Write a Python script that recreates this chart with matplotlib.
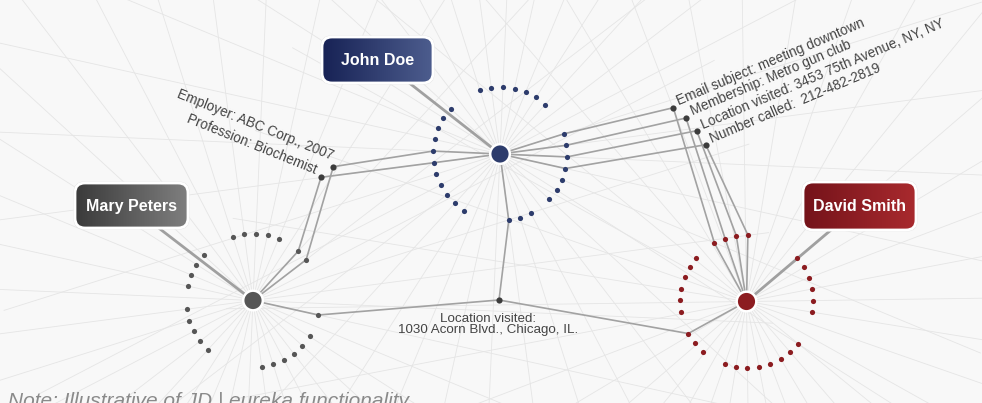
# Link-analysis style network diagram (illustrative)
import matplotlib.pyplot as plt
import numpy as np
from matplotlib.patches import FancyBboxPatch
from matplotlib.colors import LinearSegmentedColormap

# People (hub nodes), pixel coordinates
hub_names = ["John Doe", "Mary Peters", "David Smith"]
hub_x = [500, 253, 746.5]
hub_y = [154, 300.5, 301.5]
hub_colors = ["#2d3c6c", "#565656", "#8c1c20"]
ring_radius = [67, 67, 66.5]
spoke_offset = [2.5, 2.5, -0.8]

# Angles (deg, clockwise from east) of the small dots round each person
john_ring = [-107.5, -97.5, -87.5, -77.5, -67.5, -57.5, -47.5,
             -17.5, -7.5, 2.5, 12.5, 22.5, 32.5, 42.5,
             62.5, 72.5, 82.5,
             122.5, 132.5, 142.5, 152.5, 162.5, 172.5,
             -177.5, -167.5, -157.5, -147.5, -137.5]
mary_ring = [-107.5, -97.5, -87.5, -77.5, -67.5, -47.5, -37.5,
             12.5, 32.5, 42.5, 52.5, 62.5, 72.5, 82.5,
             132.5, 142.5, 152.5, 162.5, 172.5,
             -167.5, -157.5, -147.5, -137.5]
david_ring = [-118.8, -108.8, -98.8, -88.8,
              -138.8, -148.8, -158.8, -168.8, -178.8, 171.2,
              151.2, 141.2, 131.2,
              109.2, 99.2, 89.2, 79.2, 69.2, 59.2, 49.2, 39.2,
              -40.8, -30.8, -20.8, -10.8, -0.8, 9.2]
rings = [john_ring, mary_ring, david_ring]

# Name boxes
box_left = [322, 75, 803]
box_top = [37, 183, 182]
box_right = [433, 188, 916]
box_bottom = [83, 228, 230]
box_grad = [("#172255", "#4d5d8e"), ("#3a3a3a", "#7f7f7f"), ("#74131a", "#a92a2e")]
box_anchor_x = [408, 160, 831]
box_anchor_y = [82, 229, 230]

# Attribute nodes and which ring dot (hub, angle) they link to
attr_x = [333.3, 321, 499, 673.3, 686, 696.7, 705.7]
attr_y = [166.7, 177.3, 300, 107.7, 118, 130.7, 144.7]
attr_links = [[(0, -177.5), (1, -37.5)],
              [(0, 172.5), (1, -47.5)],
              [(0, 82.5), (1, 12.5), (2, 151.2)],
              [(0, -17.5), (2, -118.8)],
              [(0, -7.5), (2, -108.8)],
              [(0, 2.5), (2, -98.8)],
              [(0, 12.5), (2, -88.8)]]

left_labels = ["Employer: ABC Corp., 2007", "Profession: Biochemist"]
left_lx = [331, 315]
left_ly = [160, 174]
right_labels = ["Email subject: meeting downtown", "Membership: Metro gun club",
                "Location visited: 3453 75th Avenue, NY, NY", "Number called:  212-482-2819"]
right_lx = [678.5, 693, 703.5, 712]
right_ly = [105, 115.5, 129.5, 143]


def ring_point(h, ang):
    a = np.radians(ang)
    return hub_x[h] + ring_radius[h] * np.cos(a), hub_y[h] + ring_radius[h] * np.sin(a)


plt.rcParams['font.family'] = ['Liberation Sans', 'DejaVu Sans']
fig = plt.figure(figsize=(9.82, 4.03), dpi=100)
fig.patch.set_facecolor("#f8f8f8")
ax = fig.add_axes([0, 0, 1, 1])
ax.set_facecolor("#f8f8f8")

# faint spokes from every hub
for h in range(3):
    for k in range(36):
        a = np.radians(spoke_offset[h] + 10 * k)
        ax.plot([hub_x[h], hub_x[h] + 520 * np.cos(a)],
                [hub_y[h], hub_y[h] + 520 * np.sin(a)],
                color="#e5e5e5", lw=0.6, zorder=1)

# links attribute -> ring dot -> hub
for i in range(len(attr_x)):
    for h, ang in attr_links[i]:
        px, py = ring_point(h, ang)
        ax.plot([attr_x[i], px, hub_x[h]], [attr_y[i], py, hub_y[h]],
                color="#a2a2a2", lw=1.2, zorder=3, solid_capstyle="round")

# name box connectors
for h in range(3):
    ax.plot([hub_x[h], box_anchor_x[h]], [hub_y[h], box_anchor_y[h]],
            color="#a0a0a0", lw=2, zorder=3)

# ring dots
for h in range(3):
    pts = [ring_point(h, a) for a in rings[h]]
    ax.scatter([p[0] for p in pts], [p[1] for p in pts], s=14,
               color=hub_colors[h], zorder=4, linewidths=0)

# attribute nodes
ax.scatter(attr_x, attr_y, s=20, color="#3c3c3c", zorder=4, linewidths=0)

# hubs
ax.scatter(hub_x, hub_y, s=200, color=hub_colors, edgecolors="white",
           linewidths=1.8, zorder=6)

# name boxes with horizontal gradient
grad = np.linspace(0, 1, 256).reshape(1, -1)
for h in range(3):
    x0, y0 = box_left[h], box_top[h]
    w, hh = box_right[h] - x0, box_bottom[h] - y0
    shadow = FancyBboxPatch((x0 - 1.5, y0 - 1.5), w + 3, hh + 3,
                            boxstyle="round,pad=0,rounding_size=11",
                            fc="#d9d9d9", ec="none", alpha=0.7, zorder=6)
    ax.add_patch(shadow)
    clip = FancyBboxPatch((x0, y0), w, hh, boxstyle="round,pad=0,rounding_size=10",
                          fc="none", ec="none", transform=ax.transData)
    ax.add_patch(clip)
    cmap = LinearSegmentedColormap.from_list("g%d" % h, box_grad[h])
    im = ax.imshow(grad, extent=[x0, x0 + w, y0 + hh, y0], cmap=cmap,
                   aspect="auto", zorder=7)
    im.set_clip_path(clip)
    ax.add_patch(FancyBboxPatch((x0, y0), w, hh, boxstyle="round,pad=0,rounding_size=10",
                                fc="none", ec="white", lw=2, zorder=8))
    ax.text(x0 + w / 2, y0 + hh / 2 + 0.5, hub_names[h], color="white",
            fontsize=11.5, fontweight="bold", ha="center", va="center", zorder=9)

# attribute labels
for i in range(len(left_labels)):
    ax.text(left_lx[i], left_ly[i], left_labels[i], rotation=-22,
            rotation_mode="anchor", ha="right", va="baseline",
            fontsize=9.8, color="#444444", zorder=5)
for i in range(len(right_labels)):
    ax.text(right_lx[i], right_ly[i], right_labels[i], rotation=23,
            rotation_mode="anchor", ha="left", va="baseline",
            fontsize=9.8, color="#444444", zorder=5)
ax.text(488, 321.5, "Location visited:", ha="center", va="baseline",
        fontsize=9.6, color="#444444", zorder=5)
ax.text(488, 333.5, "1030 Acorn Blvd., Chicago, IL.", ha="center", va="baseline",
        fontsize=9.6, color="#444444", zorder=5)

# footnote (partly cut off at the bottom)
ax.text(8, 407, "Note: Illustrative of JD | eureka functionality", style="italic",
        ha="left", va="baseline", fontsize=15, color="#8a8a8a", zorder=5)

ax.set_xlim(0, 982)
ax.set_ylim(403, 0)
ax.axis("off")
fig.savefig("out.png", dpi=100, facecolor=fig.get_facecolor())
